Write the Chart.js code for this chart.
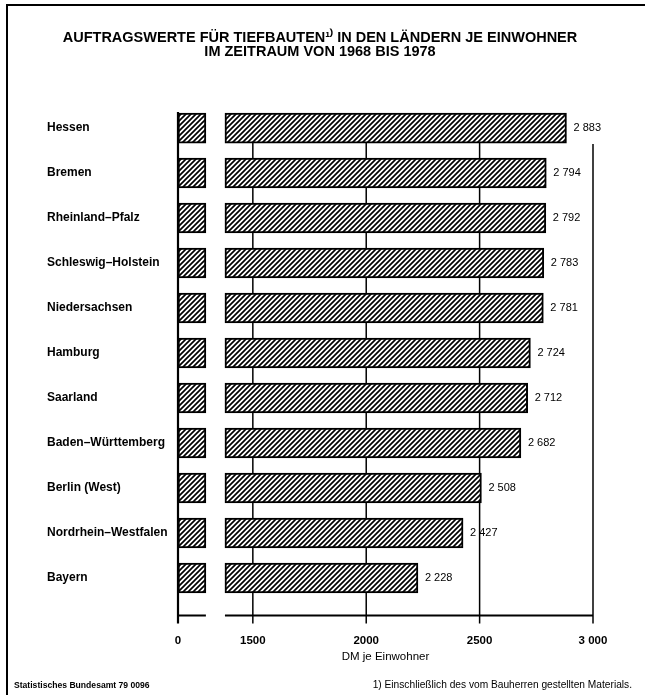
<!DOCTYPE html>
<html>
<head>
<meta charset="utf-8">
<title>Auftragswerte für Tiefbauten</title>
<script src="https://cdn.jsdelivr.net/npm/chart.js@4/dist/chart.umd.min.js"></script>
<style>
  body { margin: 0; background: #fff; }
  #box { width: 645px; height: 695px; position: relative; }
</style>
</head>
<body>
<div id="box"><canvas id="chart"></canvas></div>
<script>
// data
var laender = ['Hessen', 'Bremen', 'Rheinland\u2013Pfalz', 'Schleswig\u2013Holstein', 'Niedersachsen',
  'Hamburg', 'Saarland', 'Baden\u2013Württemberg', 'Berlin (West)', 'Nordrhein\u2013Westfalen', 'Bayern'];
var werte = [2883, 2794, 2792, 2783, 2781, 2724, 2712, 2682, 2508, 2427, 2228];
var tickWerte = [0, 1500, 2000, 2500, 3000];
var tickLabels = ['0', '1500', '2000', '2500', '3 000'];

// axis break: 0..STUB_END drawn, then gap, then BREAK_FROM..3000
var STUB_END = 123, BREAK_FROM = 1377, GAP = 84, X_MAX = 3000;

function squeeze(v) {
  if (v <= STUB_END) return v;
  if (v < BREAK_FROM) return STUB_END;
  return v - BREAK_FROM + STUB_END + GAP;
}

class BrokenScale extends Chart.LinearScale {
  getPixelForValue(v) {
    return super.getPixelForValue(squeeze(v));
  }
}
BrokenScale.id = 'broken';
BrokenScale.defaults = Chart.LinearScale.defaults;
Chart.register(BrokenScale);

var FONT = '"Liberation Sans Narrow", "Liberation Sans", Arial, sans-serif';

// hatch pattern ////
function hatch() {
  var n = 5;
  var c = document.createElement('canvas');
  c.width = n; c.height = n;
  var g = c.getContext('2d');
  g.fillStyle = '#fff';
  g.fillRect(0, 0, n, n);
  g.strokeStyle = '#000';
  g.lineWidth = 1.7;
  g.beginPath();
  g.moveTo(-1, n + 1); g.lineTo(n + 1, -1);
  g.moveTo(-1, 1); g.lineTo(1, -1);
  g.moveTo(n - 1, n + 1); g.lineTo(n + 1, n - 1);
  g.stroke();
  return g.createPattern(c, 'repeat');
}
var muster = hatch();

var achsenPlugin = {
  id: 'achsen',
  beforeDatasetsDraw: function(chart) {
    var ctx = chart.ctx, x = chart.scales.x, area = chart.chartArea;
    var first = chart.getDatasetMeta(1).data[0];
    var top = first.y - first.height / 2;
    var axisY = area.bottom + 15;
    ctx.save();
    ctx.strokeStyle = '#000';
    // grid lines
    ctx.lineWidth = 1.5;
    tickWerte.forEach(function(v) {
      if (v === 0) return;
      var px = x.getPixelForValue(v);
      var y0 = v === X_MAX ? top + first.height + 1 : top;
      ctx.beginPath();
      ctx.moveTo(px, y0);
      ctx.lineTo(px, axisY + 8);
      ctx.stroke();
    });
    // y axis
    ctx.lineWidth = 2.2;
    var x0 = x.getPixelForValue(0);
    ctx.beginPath();
    ctx.moveTo(x0, top - 1);
    ctx.lineTo(x0, axisY + 8);
    ctx.stroke();
    // x axis with break
    ctx.lineWidth = 1.8;
    ctx.beginPath();
    ctx.moveTo(x0, axisY);
    ctx.lineTo(x.getPixelForValue(STUB_END), axisY);
    ctx.moveTo(x.getPixelForValue(BREAK_FROM), axisY);
    ctx.lineTo(x.getPixelForValue(X_MAX), axisY);
    ctx.stroke();
    ctx.restore();
  },
  afterDatasetsDraw: function(chart) {
    var ctx = chart.ctx;
    var meta = chart.getDatasetMeta(1);
    ctx.save();
    ctx.fillStyle = '#000';
    ctx.font = '11px ' + FONT;
    ctx.textBaseline = 'middle';
    ctx.textAlign = 'left';
    meta.data.forEach(function(bar, i) {
      var s = String(werte[i]);
      ctx.fillText(s.slice(0, 1) + ' ' + s.slice(1), bar.x + 7, bar.y);
    });
    ctx.restore();
  },
  afterDraw: function(chart) {
    var ctx = chart.ctx;
    ctx.save();
    // frame
    ctx.strokeStyle = '#000';
    ctx.lineWidth = 2;
    ctx.beginPath();
    ctx.moveTo(645, 5);
    ctx.lineTo(7, 5);
    ctx.lineTo(7, 695);
    ctx.stroke();
    // footnotes
    ctx.fillStyle = '#000';
    ctx.textBaseline = 'middle';
    ctx.font = 'bold 8.6px ' + FONT;
    ctx.textAlign = 'left';
    ctx.fillText('Statistisches Bundesamt 79 0096', 14, 686);
    ctx.font = '10.2px ' + FONT;
    ctx.textAlign = 'right';
    ctx.fillText('1) Einschließlich des vom Bauherren gestellten Materials.', 632, 685);
    ctx.restore();
  }
};

var barStil = {
  grouped: false,
  barThickness: 30,
  backgroundColor: muster,
  borderColor: '#000',
  borderWidth: 2,
  borderSkipped: false
};

new Chart(document.getElementById('chart'), {
  type: 'bar',
  data: {
    labels: laender,
    datasets: [Object.assign({
      label: 'stub',
      data: werte.map(function() { return [0, STUB_END]; })
    }, barStil), Object.assign({
      label: 'DM je Einwohner',
      data: werte.map(function(v) { return [BREAK_FROM, v]; })
    }, barStil)]
  },
  options: {
    indexAxis: 'y',
    responsive: true,
    maintainAspectRatio: false,
    animation: false,
    layout: { padding: { left: 47, right: 52, top: 0, bottom: 0 } },
    scales: {
      x: {
        type: 'broken',
        min: 0,
        max: squeeze(X_MAX),
        afterBuildTicks: function(s) {
          s.ticks = tickWerte.map(function(v) { return { value: v }; });
        },
        afterFit: function(s) { s.height = 94.5; },
        grid: { display: false, drawTicks: false },
        border: { display: false },
        ticks: {
          padding: 33,
          color: '#000',
          font: { family: FONT, size: 11.5, weight: 'bold' },
          maxRotation: 0,
          autoSkip: false,
          callback: function(v, i) { return tickLabels[i]; }
        },
        title: {
          display: true,
          text: 'DM je Einwohner',
          color: '#000',
          font: { family: FONT, size: 11.5 },
          padding: { top: 2, bottom: 31 }
        }
      },
      y: {
        afterFit: function(s) { s.width = 131; },
        grid: { display: false },
        border: { display: false },
        ticks: {
          crossAlign: 'far',
          color: '#000',
          font: { family: FONT, size: 12, weight: 'bold' }
        }
      }
    },
    plugins: {
      legend: { display: false },
      tooltip: { enabled: false },
      title: {
        display: true,
        text: ['AUFTRAGSWERTE FÜR TIEFBAUTEN\u00b9\u207e IN DEN LÄNDERN JE EINWOHNER', 'IM ZEITRAUM VON 1968 BIS 1978'],
        color: '#000',
        font: { family: FONT, size: 14.5, weight: 'bold', lineHeight: 0.95 },
        padding: { top: 31.5, bottom: 46.5 }
      }
    }
  },
  plugins: [achsenPlugin]
});
</script>
</body>
</html>
